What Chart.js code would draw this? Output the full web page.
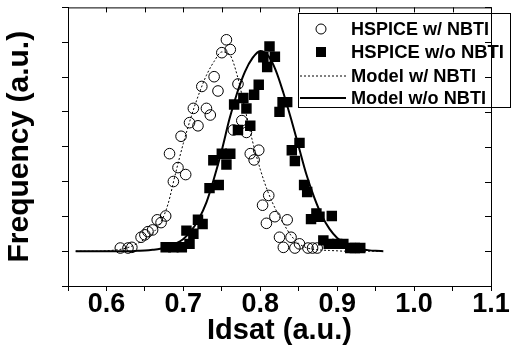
<!DOCTYPE html>
<html>
<head>
<meta charset="utf-8">
<script src="https://cdn.jsdelivr.net/npm/chart.js@4.4.0/dist/chart.umd.min.js"></script>
<style>
  html, body { margin: 0; padding: 0; background: #fff; }
  #wrap { width: 511px; height: 352px; }
</style>
</head>
<body>
<div id="wrap"><canvas id="c" width="511" height="352"></canvas></div>
<script>
// series names (legend order)
var seriesNames = ["HSPICE w/ NBTI", "HSPICE w/o NBTI", "Model w/ NBTI", "Model w/o NBTI"];

// HSPICE w/ NBTI (open circles)
var withX = [0.618, 0.628, 0.633, 0.645, 0.650, 0.654, 0.660, 0.666, 0.671, 0.677,
             0.682, 0.687, 0.693, 0.697, 0.703, 0.708, 0.713, 0.719, 0.724, 0.730,
             0.735, 0.740, 0.745, 0.750, 0.756, 0.761, 0.771, 0.765, 0.776, 0.782,
             0.787, 0.792, 0.798, 0.803, 0.808, 0.811, 0.819, 0.825, 0.830, 0.835,
             0.840, 0.845, 0.851, 0.862, 0.868, 0.874];
var withY = [0.09, 0.09, 0.11, 0.40, 0.47, 0.56, 0.61, 0.90, 0.82, 1.01,
             2.80, 2.00, 2.40, 3.30, 2.20, 3.69, 4.10, 3.60, 4.73, 4.10,
             3.91, 5.01, 4.60, 5.70, 6.07, 5.79, 4.80, 3.48, 3.75, 3.41,
             2.80, 2.62, 2.90, 1.32, 0.80, 1.60, 0.99, 0.40, 0.11, 0.90,
             0.40, 0.09, 0.21, 0.09, 0.09, 0.09];

// HSPICE w/o NBTI (filled squares)
var withoutX = [0.677, 0.687, 0.698, 0.708, 0.704, 0.713, 0.719, 0.725, 0.734, 0.746,
                0.739, 0.750, 0.761, 0.756, 0.766, 0.771, 0.778, 0.782, 0.787, 0.792,
                0.798, 0.804, 0.809, 0.812, 0.819, 0.825, 0.829, 0.835, 0.841, 0.845,
                0.851, 0.857, 0.861, 0.866, 0.873, 0.877, 0.893, 0.882, 0.889, 0.900,
                0.908, 0.917, 0.923, 0.930];
var withoutY = [0.11, 0.11, 0.11, 0.21, 0.59, 0.50, 0.90, 0.78, 1.81, 1.90,
                2.61, 2.80, 2.80, 2.49, 4.21, 3.48, 4.40, 4.10, 3.60, 4.49,
                4.78, 5.57, 5.29, 5.88, 5.58, 4.00, 4.28, 4.28, 2.90, 2.59,
                3.11, 1.90, 1.70, 0.92, 1.08, 0.99, 1.01, 0.31, 0.21, 0.21,
                0.21, 0.09, 0.09, 0.09];

// model curves
var modelX = [0.56, 0.57, 0.58, 0.59, 0.60, 0.61, 0.62, 0.63, 0.64, 0.65,
              0.66, 0.67, 0.68, 0.69, 0.70, 0.71, 0.72, 0.73, 0.74, 0.75,
              0.76, 0.77, 0.78, 0.79, 0.80, 0.81, 0.82, 0.83, 0.84, 0.85,
              0.86, 0.87, 0.88, 0.89, 0.90, 0.91, 0.92, 0.93, 0.94, 0.95, 0.96];
var modelWith = [0, 0, 0, 0, 0.01, 0.03, 0.06, 0.12, 0.22, 0.35,
                 0.52, 0.80, 1.35, 2.25, 3.10, 3.85, 4.50, 5.05, 5.45, 5.72,
                 5.65, 5.05, 4.10, 3.15, 2.35, 1.70, 1.20, 0.80, 0.45, 0.22,
                 0.10, 0.05, 0.03, 0.02, 0.01, 0, 0, 0, 0, 0, 0];
var modelWithout = [0, 0, 0, 0, 0, 0, 0, 0, 0.01, 0.02,
                    0.04, 0.07, 0.13, 0.22, 0.35, 0.58, 0.92, 1.40, 2.10, 2.90,
                    3.80, 4.55, 5.15, 5.55, 5.75, 5.62, 5.20, 4.55, 3.80, 3.00,
                    2.20, 1.55, 1.02, 0.64, 0.38, 0.22, 0.12, 0.06, 0.03, 0.01, 0];

var xTickLabels = ["0.6", "0.7", "0.8", "0.9", "1.0", "1.1"];

var FONT = "'Liberation Sans', Arial, sans-serif";

function pairs(xs, ys) {
    return xs.map(function(v, i) { return {x: v, y: ys[i]}; });
}

// legend box, plus the top/right frame with inward ticks
var framePlugin = {
    id: "frame",
    afterDatasetsDraw: function(chart) {
        var ctx = chart.ctx, a = chart.chartArea;
        var x = chart.scales.x, y = chart.scales.y;
        ctx.save();

        // legend
        ctx.fillStyle = "#fff";
        ctx.fillRect(298.5, 13.5, 212, 94);
        ctx.strokeStyle = "#000";
        ctx.lineWidth = 1;
        ctx.strokeRect(298.5, 13.5, 212, 94);
        var rows = [29, 52, 76, 98];
        // circle
        ctx.beginPath();
        ctx.arc(321, rows[0], 5, 0, Math.PI * 2);
        ctx.stroke();
        // square
        ctx.fillStyle = "#000";
        ctx.fillRect(316, rows[1] - 5, 10, 10);
        // dotted
        ctx.setLineDash([2, 2]);
        ctx.beginPath();
        ctx.moveTo(300, rows[2]); ctx.lineTo(346, rows[2]);
        ctx.stroke();
        ctx.setLineDash([]);
        // solid
        ctx.lineWidth = 2;
        ctx.beginPath();
        ctx.moveTo(300, rows[3]); ctx.lineTo(346, rows[3]);
        ctx.stroke();
        ctx.font = "bold 19px " + FONT;
        ctx.textBaseline = "middle";
        ctx.textAlign = "left";
        var widths = [138, 153, 125, 135];
        for (var i = 0; i < seriesNames.length; i++) {
            ctx.fillText(seriesNames[i], 351, rows[i] + 1, widths[i]);
        }

        // top + right frame
        ctx.lineWidth = 1;
        ctx.beginPath();
        ctx.moveTo(a.left, a.top + 0.5); ctx.lineTo(a.right + 0.5, a.top + 0.5);
        ctx.moveTo(a.right + 0.5, a.top); ctx.lineTo(a.right + 0.5, a.bottom);
        x.ticks.forEach(function(t) {
            var px = Math.round(x.getPixelForValue(t.value)) + 0.5;
            ctx.moveTo(px, a.top); ctx.lineTo(px, a.top + 5);
        });
        y.ticks.forEach(function(t) {
            var py = Math.round(y.getPixelForValue(t.value)) + 0.5;
            ctx.moveTo(a.right, py); ctx.lineTo(a.right - 6, py);
        });
        ctx.stroke();
        ctx.restore();
    }
};

new Chart(document.getElementById("c"), {
    type: "scatter",
    data: {
        datasets: [{
            label: seriesNames[0],
            data: pairs(withX, withY),
            pointStyle: "circle",
            pointRadius: 5.3,
            borderColor: "#000",
            backgroundColor: "rgba(0,0,0,0)",
            borderWidth: 1
        }, {
            label: seriesNames[1],
            data: pairs(withoutX, withoutY),
            pointStyle: "rect",
            pointRadius: 7.4,
            borderColor: "#000",
            backgroundColor: "#000",
            borderWidth: 0
        }, {
            label: seriesNames[2],
            type: "line",
            data: pairs(modelX, modelWith),
            showLine: true,
            pointRadius: 0,
            borderColor: "#000",
            borderWidth: 1,
            borderDash: [2, 2],
            cubicInterpolationMode: "monotone",
            fill: false
        }, {
            label: seriesNames[3],
            type: "line",
            data: pairs(modelX, modelWithout),
            showLine: true,
            pointRadius: 0,
            borderColor: "#000",
            borderWidth: 2,
            cubicInterpolationMode: "monotone",
            fill: false
        }]
    },
    options: {
        responsive: false,
        animation: false,
        devicePixelRatio: 1,
        events: [],
        layout: { padding: { top: 4, right: 20, left: 0, bottom: 0 } },
        plugins: { legend: { display: false }, tooltip: { enabled: false } },
        scales: {
            x: {
                type: "linear",
                min: 0.55,
                max: 1.1,
                border: { display: true, color: "#000", width: 1 },
                grid: { drawOnChartArea: false, color: "#000", tickLength: 5, lineWidth: 1 },
                ticks: {
                    stepSize: 0.05,
                    autoSkip: false,
                    maxRotation: 0,
                    minRotation: 0,
                    padding: 0,
                    color: "#000",
                    font: { family: FONT, size: 27, weight: "bold", lineHeight: 1 },
                    callback: function(v) {
                        var r = Math.round(v * 10) / 10;
                        if (Math.abs(v - r) > 1e-6) return "";
                        var s = r.toFixed(1);
                        return xTickLabels.indexOf(s) >= 0 ? s : "";
                    }
                },
                title: {
                    display: true,
                    text: "Idsat (a.u.)",
                    color: "#000",
                    font: { family: FONT, size: 29, weight: "bold" },
                    padding: { top: 0, bottom: 4 }
                },
                afterFit: function(s) {
                    s.height = 66;
                    s.paddingLeft = 0;
                    s.paddingRight = 0;
                }
            },
            y: {
                type: "linear",
                min: -1,
                max: 7,
                border: { display: true, color: "#000", width: 1 },
                grid: { drawOnChartArea: false, color: "#000", tickLength: 6, lineWidth: 1 },
                ticks: { stepSize: 1, display: false },
                title: {
                    display: true,
                    text: "Frequency (a.u.)",
                    color: "#000",
                    font: { family: FONT, size: 30, weight: "bold" },
                    padding: { top: 2, bottom: 0 }
                },
                afterFit: function(s) {
                    s.width = 68;
                    s.paddingTop = 0;
                    s.paddingBottom = 0;
                }
            }
        }
    },
    plugins: [framePlugin]
});
</script>
</body>
</html>
